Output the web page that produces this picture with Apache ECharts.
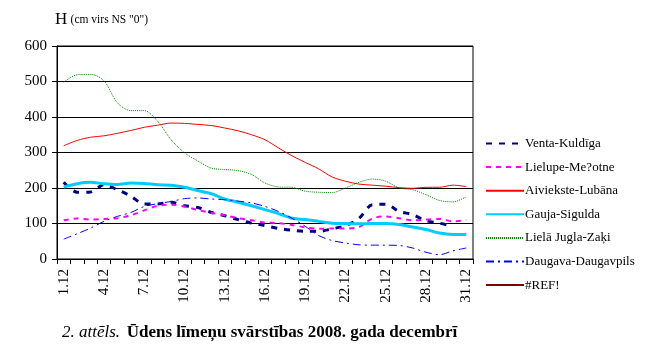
<!DOCTYPE html>
<html>
<head>
<meta charset="utf-8">
<script src="https://cdn.jsdelivr.net/npm/echarts@6/dist/echarts.min.js"></script>
<style>
html,body{margin:0;padding:0;background:#fff;}
#main{width:658px;height:353px;}
</style>
</head>
<body>
<div id="main"></div>
<script>
// dienas (decembris)
var days = [];
for (var d = 1; d <= 31; d++) { days.push(d + '.12'); }

var venta = [216,188,189,209,195,177,155,155,160,150,145,131,122,111,101,94,86,81,78,78,85,94,114,153,154,134,125,108,101,92,null];
var lielupe = [109,114,111,113,115,123,137,150,153,148,138,130,123,115,109,103,101,96,89,85,86,86,90,114,120,115,109,111,113,106,109];
var aiviekste = [319,334,343,347,354,362,371,377,383,382,379,376,369,361,350,336,313,291,272,254,231,219,211,208,205,201,199,202,202,208,204];
var gauja = [203,212,216,212,210,214,213,209,208,202,193,184,169,160,150,139,128,115,111,106,101,100,99,100,100,97,90,83,73,69,69];
var jugla = [498,519,520,502,440,418,418,388,336,299,276,256,252,249,238,214,203,202,191,188,187,200,216,225,219,200,195,181,165,161,175];
var daugava = [56,71,87,106,120,131,148,156,162,170,172,169,167,163,158,148,134,115,92,66,52,45,40,39,39,38,31,19,12,23,31];
var ref = [];

var serif = '"Liberation Serif", "DejaVu Serif", serif';

var myChart = echarts.init(document.getElementById('main'));

function line(name, data, color, width, type) {
	return {
		name: name,
		type: 'line',
		data: data,
		symbol: 'none',
		smooth: 0.3,
		lineStyle: { color: color, width: width, type: type },
		itemStyle: { color: color }
	};
}

var option = {
	animation: false,
	grid: { left: 57, right: 185, top: 46, bottom: 94, show: true, borderColor: '#000', borderWidth: 1 },
	legend: {
		orient: 'vertical',
		left: 485,
		top: 137,
		padding: 0,
		itemWidth: 38,
		itemHeight: 14,
		itemGap: 10.6,
		itemStyle: { opacity: 0 },
		textStyle: { fontFamily: serif, fontSize: 13, color: '#000', padding: [0, 0, 0, -4] },
		data: ['Venta-Kuldīga', 'Lielupe-Me?otne', 'Aiviekste-Lubāna', 'Gauja-Sigulda', 'Lielā Jugla-Zaķi', 'Daugava-Daugavpils', '#REF!']
	},
	xAxis: {
		type: 'category',
		data: days,
		boundaryGap: true,
		axisLine: { lineStyle: { color: '#000', width: 1 } },
		axisTick: { show: true, interval: 0, length: 5, lineStyle: { color: '#000' } },
		axisLabel: { interval: 2, rotate: 90, fontFamily: serif, fontSize: 15, color: '#000', margin: 10 }
	},
	yAxis: {
		type: 'value',
		min: 0,
		max: 600,
		interval: 100,
		axisLine: { show: true, lineStyle: { color: '#000', width: 1 } },
		axisTick: { show: true, length: 5, lineStyle: { color: '#000' } },
		axisLabel: { fontFamily: serif, fontSize: 15, color: '#000', margin: 10 },
		splitLine: { lineStyle: { color: '#000', width: 1 } }
	},
	graphic: [
		{
			type: 'text', left: 55, top: 11,
			style: {
				text: '{a|H} {b|(cm virs NS "0")}',
				rich: {
					a: { fontFamily: serif, fontSize: 17, fill: '#000' },
					b: { fontFamily: serif, fontSize: 11.5, fill: '#000' }
				}
			}
		},
		{
			type: 'text', left: 62, top: 324,
			style: {
				text: '{a|2. attēls.}  {b|Ūdens līmeņu svārstības 2008. gada decembrī}',
				rich: {
					a: { fontFamily: serif, fontSize: 17, fontStyle: 'italic', fill: '#000' },
					b: { fontFamily: serif, fontSize: 17, fontWeight: 'bold', fill: '#000' }
				}
			}
		}
	],
	series: [
		line('Venta-Kuldīga', venta, '#000080', 3, [6, 7]),
		line('Lielupe-Me?otne', lielupe, '#ff00ff', 2, [5, 5]),
		line('Aiviekste-Lubāna', aiviekste, '#ff0000', 1, 'solid'),
		line('Gauja-Sigulda', gauja, '#00ccff', 3, 'solid'),
		line('Lielā Jugla-Zaķi', jugla, '#008000', 1, [1, 1]),
		line('Daugava-Daugavpils', daugava, '#0000ff', 1, [8, 4, 2, 4]),
		line('#REF!', ref, '#800000', 1, 'solid')
	]
};

myChart.setOption(option);
</script>
</body>
</html>
